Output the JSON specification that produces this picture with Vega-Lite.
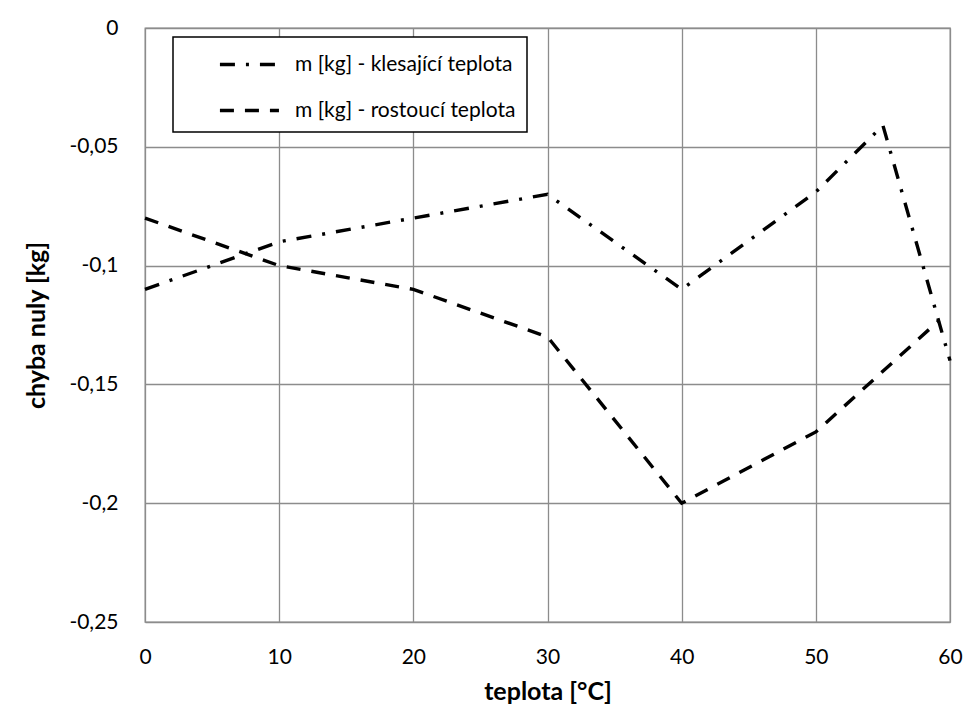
{
  "$schema": "https://vega.github.io/schema/vega-lite/v6.json",
  "width": 805,
  "height": 594,
  "autosize": {"type": "none"},
  "padding": {"left": 145, "top": 28, "right": 29, "bottom": 84},
  "background": "white",
  "config": {
    "locale": {"number": {"decimal": ",", "thousands": " ", "grouping": [3], "currency": ["", " Kč"], "minus": "-"}},
    "font": "Lato",
    "view": {"stroke": "#8c8c8c", "strokeWidth": 1.3},
    "legend": {"strokeColor": "black", "strokeWidth": 1.5, "fillColor": "white", "padding": 11}
  },
  "data": {
    "values": [
      {"t": 0, "m": -0.11, "s": "m [kg] - klesající teplota"},
      {"t": 10, "m": -0.09, "s": "m [kg] - klesající teplota"},
      {"t": 20, "m": -0.08, "s": "m [kg] - klesající teplota"},
      {"t": 30, "m": -0.07, "s": "m [kg] - klesající teplota"},
      {"t": 40, "m": -0.11, "s": "m [kg] - klesající teplota"},
      {"t": 50, "m": -0.069, "s": "m [kg] - klesající teplota"},
      {"t": 55, "m": -0.041, "s": "m [kg] - klesající teplota"},
      {"t": 60, "m": -0.14, "s": "m [kg] - klesající teplota"},
      {"t": 0, "m": -0.08, "s": "m [kg] - rostoucí teplota"},
      {"t": 10, "m": -0.1, "s": "m [kg] - rostoucí teplota"},
      {"t": 20, "m": -0.11, "s": "m [kg] - rostoucí teplota"},
      {"t": 30, "m": -0.13, "s": "m [kg] - rostoucí teplota"},
      {"t": 40, "m": -0.2, "s": "m [kg] - rostoucí teplota"},
      {"t": 50, "m": -0.17, "s": "m [kg] - rostoucí teplota"},
      {"t": 59.2, "m": -0.123, "s": "m [kg] - rostoucí teplota"}
    ]
  },
  "mark": {"type": "line", "color": "black", "strokeWidth": 3.4, "strokeCap": "butt"},
  "encoding": {
    "x": {
      "field": "t", "type": "quantitative",
      "scale": {"domain": [0, 60], "nice": false, "zero": false},
      "axis": {
        "title": "teplota [°C]", "values": [0, 10, 20, 30, 40, 50, 60],
        "domain": false, "ticks": false, "grid": true, "gridColor": "#8c8c8c", "gridWidth": 1.3,
        "labelFontSize": 21, "labelColor": "black", "labelPadding": 24, "labelFlush": false,
        "titleFontSize": 25, "titleFontWeight": "bold", "titleColor": "black", "titlePadding": 12
      }
    },
    "y": {
      "field": "m", "type": "quantitative",
      "scale": {"domain": [-0.25, 0], "nice": false},
      "axis": {
        "title": "chyba nuly [kg]", "values": [0, -0.05, -0.1, -0.15, -0.2, -0.25], "format": ".2~f",
        "domain": false, "ticks": false, "grid": true, "gridColor": "#8c8c8c", "gridWidth": 1.3,
        "labelFontSize": 21, "labelColor": "black", "labelPadding": 27,
        "titleFontSize": 25, "titleFontWeight": "bold", "titleColor": "black", "titlePadding": 19
      }
    },
    "strokeDash": {
      "field": "s", "type": "nominal",
      "scale": {
        "domain": ["m [kg] - klesající teplota", "m [kg] - rostoucí teplota"],
        "range": [[15, 11, 3, 11], [14, 11]]
      },
      "legend": {
        "title": null, "orient": "none", "legendX": 28, "legendY": 9,
        "symbolType": "M1.34,0H5.41", "symbolStrokeWidth": 3.4, "symbolStrokeColor": "black",
        "symbolSize": 841, "labelFontSize": 21, "labelColor": "black", "labelOffset": 78,
        "rowPadding": 19, "labelLimit": 400
      }
    }
  }
}
